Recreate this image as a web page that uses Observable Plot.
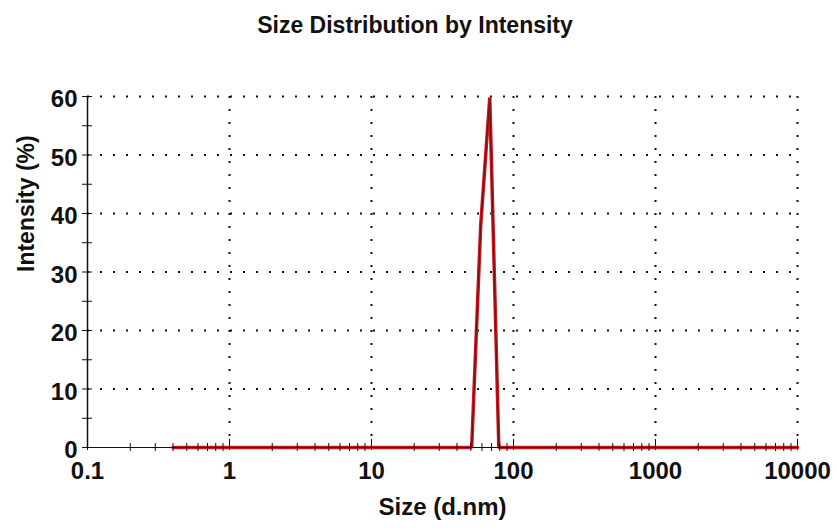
<!DOCTYPE html>
<html>
<head>
<meta charset="utf-8">
<script src="https://cdn.jsdelivr.net/npm/d3@7"></script>
<script src="https://cdn.jsdelivr.net/npm/@observablehq/plot@0.6"></script>
<style>
  html, body { margin: 0; padding: 0; background: #fff; }
  #title {
    width: 837px; height: 60px; box-sizing: border-box;
    padding-top: 13px; padding-right: 7px;
    font-family: "Liberation Sans", Arial, sans-serif;
    font-weight: bold; font-size: 23px; line-height: 1.117;
    text-align: center; color: #111;
  }
</style>
</head>
<body>
<div id="title">Size Distribution by Intensity</div>
<div id="chart"></div>
<script>
// Data
const sizeNm    = [0.4, 50.75, 58.77, 68.06, 78.82, 10000];
const intensity = [0,   0,     38,    59.8,  0,     0];

// Axis ticks / labels
const xMajorTicks = [0.1, 1, 10, 100, 1000, 10000];
const xTickLabels = ["0.1", "1", "10", "100", "1000", "10000"];
const xMultipliers = [2, 3, 4, 5, 6, 7, 8, 9];
const xDecades = [0.1, 1, 10, 100, 1000];
const yMajorTicks = [0, 10, 20, 30, 40, 50, 60];
const yTickLabels = ["0", "10", "20", "30", "40", "50", "60"];
const yMinorTicks = [5, 15, 25, 35, 45, 55];
const xGrid = [1, 10, 100, 1000, 10000];
const yGrid = [10, 20, 30, 40, 50, 60];

const xMinorTicks = xDecades.flatMap(d => xMultipliers.map(m => +(d * m).toPrecision(3)));
const data = sizeNm.map((s, i) => ({size: s, value: intensity[i]}));
const xLabels = xMajorTicks.map((t, i) => ({t, label: xTickLabels[i]}));
const yLabels = yMajorTicks.map((t, i) => ({t, label: yTickLabels[i]}));

const font = {fontFamily: "Liberation Sans, Arial, sans-serif", fontWeight: "bold", fill: "#111"};

const chart = Plot.plot({
  width: 837,
  height: 472,
  marginLeft: 87,
  marginRight: 40,
  marginTop: 36,
  marginBottom: 85,
  style: {fontFamily: "Liberation Sans, Arial, sans-serif", fontSize: "24px", fontWeight: "bold", color: "#111", background: "#fff"},
  x: {type: "log", domain: [0.1, 10000], axis: null},
  y: {domain: [0, 60], axis: null},
  marks: [
    // dotted grid
    Plot.ruleY(yGrid, {stroke: "#111", strokeWidth: 2, strokeDasharray: "2,11"}),
    Plot.ruleX(xGrid, {stroke: "#111", strokeWidth: 2, strokeDasharray: "2,11"}),
    // red size distribution
    Plot.line(data, {x: "size", y: "value", stroke: "#c8181f", strokeWidth: 3.5, strokeLinejoin: "miter"}),
    Plot.line(data, {x: "size", y: "value", stroke: "#6a0e0e", strokeWidth: 1}),
    // axis lines
    Plot.ruleY([0], {stroke: "#111", strokeWidth: 1}),
    Plot.ruleX([0.1], {stroke: "#111", strokeWidth: 1.5}),
    // x ticks
    Plot.axisX({ticks: xMinorTicks, tickSize: 8, dy: -4, tickFormat: () => "", label: null, stroke: "#111"}),
    Plot.axisX({ticks: xMajorTicks, tickSize: 11, dy: -8, tickFormat: () => "", label: null, stroke: "#111"}),
    // y ticks
    Plot.axisY({ticks: yMajorTicks.concat(yMinorTicks), tickSize: 10, dx: 5, tickFormat: () => "", label: null, stroke: "#111"}),
    // tick labels
    Plot.text(xLabels, {x: "t", text: "label", frameAnchor: "bottom", dy: 31, fontSize: 24, ...font}),
    Plot.text(yLabels, {y: "t", text: "label", frameAnchor: "left", dx: -10, dy: 3, textAnchor: "end", fontSize: 24, ...font}),
    // axis titles
    Plot.text(["Size (d.nm)"], {frameAnchor: "bottom", dy: 67, fontSize: 24, ...font}),
    Plot.text(["Intensity (%)"], {frameAnchor: "left", dx: -61, rotate: -90, fontSize: 23, ...font})
  ]
});
document.getElementById("chart").appendChild(chart);
</script>
</body>
</html>
